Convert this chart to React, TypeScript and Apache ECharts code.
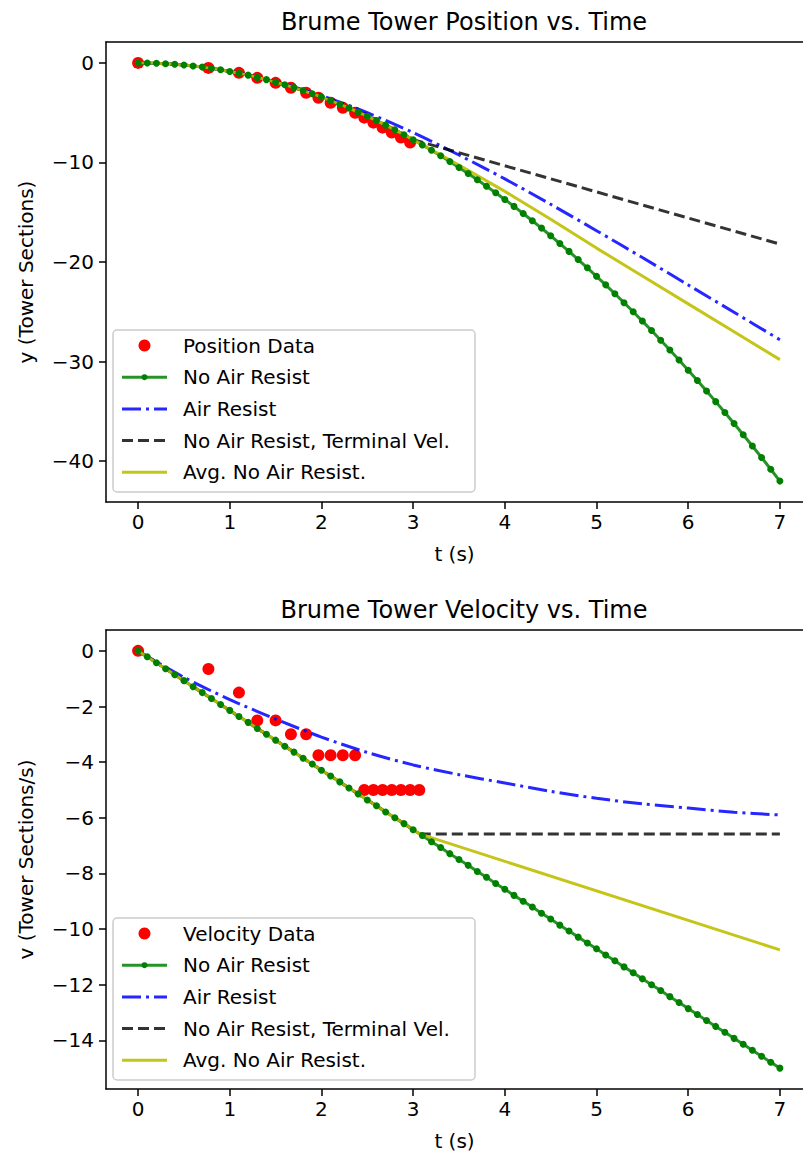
import React, { useEffect, useRef } from "react";
import * as echarts from "echarts";

const FONT = "DejaVu Sans";

// ---------- data ----------
const xTicks = [0, 1, 2, 3, 4, 5, 6, 7];
const posTicks = [0, -10, -20, -30, -40];
const velTicks = [0, -2, -4, -6, -8, -10, -12, -14];

const sampleTimes = [
  0, 0.1, 0.2, 0.3, 0.4, 0.5, 0.6, 0.7, 0.8, 0.9,
  1, 1.1, 1.2, 1.3, 1.4, 1.5, 1.6, 1.7, 1.8, 1.9,
  2, 2.1, 2.2, 2.3, 2.4, 2.5, 2.6, 2.7, 2.8, 2.9,
  3, 3.1, 3.2, 3.3, 3.4, 3.5, 3.6, 3.7, 3.8, 3.9,
  4, 4.1, 4.2, 4.3, 4.4, 4.5, 4.6, 4.7, 4.8, 4.9,
  5, 5.1, 5.2, 5.3, 5.4, 5.5, 5.6, 5.7, 5.8, 5.9,
  6, 6.1, 6.2, 6.3, 6.4, 6.5, 6.6, 6.7, 6.8, 6.9,
  7,
];
const noAirPosition = [
  0, -0.01, -0.03, -0.08, -0.14, -0.21, -0.31, -0.42, -0.55, -0.69,
  -0.86, -1.04, -1.23, -1.45, -1.68, -1.93, -2.19, -2.48, -2.78, -3.09,
  -3.43, -3.78, -4.15, -4.53, -4.94, -5.36, -5.79, -6.25, -6.72, -7.21,
  -7.71, -8.24, -8.78, -9.33, -9.91, -10.5, -11.11, -11.73, -12.38, -13.04,
  -13.71, -14.41, -15.12, -15.85, -16.59, -17.36, -18.14, -18.93, -19.75, -20.58,
  -21.43, -22.29, -23.18, -24.08, -24.99, -25.93, -26.88, -27.85, -28.83, -29.84,
  -30.86, -31.89, -32.95, -34.02, -35.11, -36.21, -37.34, -38.48, -39.63, -40.81,
  -42,
];
const noAirVelocity = [
  0, -0.21, -0.43, -0.64, -0.86, -1.07, -1.29, -1.5, -1.71, -1.93,
  -2.14, -2.36, -2.57, -2.79, -3, -3.21, -3.43, -3.64, -3.86, -4.07,
  -4.29, -4.5, -4.71, -4.93, -5.14, -5.36, -5.57, -5.79, -6, -6.21,
  -6.43, -6.64, -6.86, -7.07, -7.29, -7.5, -7.71, -7.93, -8.14, -8.36,
  -8.57, -8.79, -9, -9.21, -9.43, -9.64, -9.86, -10.07, -10.29, -10.5,
  -10.71, -10.93, -11.14, -11.36, -11.57, -11.79, -12, -12.21, -12.43, -12.64,
  -12.86, -13.07, -13.29, -13.5, -13.71, -13.93, -14.14, -14.36, -14.57, -14.79,
  -15,
];

const positionTimes = [0, 0.767, 1.1, 1.3, 1.5, 1.667, 1.833, 1.967, 2.1, 2.233, 2.367, 2.467, 2.567, 2.667, 2.767, 2.867, 2.967];
const positionData = [0, -0.5, -1, -1.5, -2, -2.5, -3, -3.5, -4, -4.5, -5, -5.5, -6, -6.5, -7, -7.5, -8];
const velocityTimes = [0, 0.767, 1.1, 1.3, 1.5, 1.667, 1.833, 1.967, 2.1, 2.233, 2.367, 2.467, 2.567, 2.667, 2.767, 2.867, 2.967, 3.067];
const velocityData = [0, -0.652, -1.5, -2.5, -2.5, -3, -3, -3.75, -3.75, -3.75, -3.75, -5, -5, -5, -5, -5, -5, -5];

const airTimes = [0, 0.5, 1, 1.5, 2, 2.5, 3, 3.5, 4, 4.5, 5, 5.5, 6, 6.5, 7];
const airPosition = [0, -0.21, -0.85, -1.88, -3.28, -5.0, -7.0, -9.25, -11.65, -14.2, -16.85, -19.55, -22.3, -25.05, -27.8];
const airVelocity = [0, -0.95, -1.75, -2.45, -3.1, -3.65, -4.1, -4.45, -4.75, -5.05, -5.3, -5.5, -5.65, -5.8, -5.9];

// after the shared free-fall start (samples up to t = 3.0)
const sharedCount = 31;
const termPosTimes = [7];
const termPosValues = [-18.2];
const termVelTimes = [3.07, 7];
const termVelValues = [-6.58, -6.58];
const avgPosTimes = [3.5, 4, 4.5, 5, 5.5, 6, 6.5, 7];
const avgPosValues = [-10.25, -12.9, -15.7, -18.6, -21.4, -24.2, -27.0, -29.8];
const avgVelTimes = [3.07, 7];
const avgVelValues = [-6.58, -10.75];

const legendLabelsTop = ["Position Data", "No Air Resist", "Air Resist", "No Air Resist, Terminal Vel.", "Avg. No Air Resist."];
const legendLabelsBottom = ["Velocity Data", "No Air Resist", "Air Resist", "No Air Resist, Terminal Vel.", "Avg. No Air Resist."];

// ---------- helpers ----------
const pairs = (xs: number[], ys: number[]) => xs.map((x, i) => [x, ys[i]]);
const sharedPlus = (ys: number[], tailX: number[], tailY: number[]) =>
  pairs(sampleTimes.slice(0, sharedCount), ys.slice(0, sharedCount)).concat(pairs(tailX, tailY));
const fmt = (v: number) => (v < 0 ? "\u2212" + Math.abs(v) : String(v));

const RED = "#ff0000";
const GREEN = "#008000";
const BLUE = "#0000ff";
const BLACK = "#000000";
const YELLOW = "#bfbf00";
const DASHDOT = [19, 5, 3, 5];
const DASHED = [11, 5];

const GRID_LEFT = 106;
const GRID_W = 697; // the plot frame runs past the right edge of the picture
const X_MIN = -0.35;
const X_MAX = 7.252;

const axisLineStyle = { color: "#000", width: 1.5 };

function xAxis(gridIndex: number) {
  return {
    type: "value",
    gridIndex,
    min: X_MIN,
    max: X_MAX,
    name: "t (s)",
    nameLocation: "middle",
    nameGap: 42,
    nameTextStyle: { fontSize: 20, color: "#000", fontFamily: FONT },
    axisLine: { show: true, onZero: false, lineStyle: axisLineStyle },
    splitLine: { show: false },
    axisTick: { show: true, length: 7, customValues: xTicks, lineStyle: axisLineStyle },
    axisLabel: { customValues: xTicks, fontSize: 20, color: "#000", fontFamily: FONT, margin: 10, formatter: fmt },
  };
}
function topFrame(gridIndex: number) {
  return {
    type: "value",
    gridIndex,
    position: "top",
    min: X_MIN,
    max: X_MAX,
    axisLine: { show: true, onZero: false, lineStyle: axisLineStyle },
    axisTick: { show: false },
    axisLabel: { show: false },
    splitLine: { show: false },
  };
}
function yAxis(gridIndex: number, min: number, max: number, ticks: number[], name: string) {
  return {
    type: "value",
    gridIndex,
    min,
    max,
    name,
    nameLocation: "middle",
    nameRotate: 90,
    nameGap: 70,
    nameTextStyle: { fontSize: 20, color: "#000", fontFamily: FONT },
    axisLine: { show: true, onZero: false, lineStyle: axisLineStyle },
    splitLine: { show: false },
    axisTick: { show: true, length: 7, customValues: ticks, lineStyle: axisLineStyle },
    axisLabel: { customValues: ticks, fontSize: 20, color: "#000", fontFamily: FONT, margin: 12, formatter: fmt },
  };
}

function seriesFor(
  idx: number,
  dataLabel: string,
  dataT: number[],
  dataY: number[],
  greenY: number[],
  airY: number[],
  term: number[][],
  avg: number[][]
) {
  return [
    {
      name: dataLabel,
      type: "scatter",
      xAxisIndex: idx * 2,
      yAxisIndex: idx,
      data: pairs(dataT, dataY),
      symbolSize: 12,
      itemStyle: { color: RED, opacity: 1 },
    },
    {
      name: "No Air Resist",
      type: "line",
      xAxisIndex: idx * 2,
      yAxisIndex: idx,
      data: pairs(sampleTimes, greenY),
      symbol: "circle",
      symbolSize: 7,
      itemStyle: { color: GREEN },
      lineStyle: { color: GREEN, width: 3, opacity: 0.85 },
    },
    {
      name: "Air Resist",
      type: "line",
      xAxisIndex: idx * 2,
      yAxisIndex: idx,
      data: pairs(airTimes, airY),
      smooth: 0.3,
      symbol: "none",
      lineStyle: { color: BLUE, width: 3, type: DASHDOT, opacity: 0.85 },
    },
    {
      name: "No Air Resist, Terminal Vel.",
      type: "line",
      xAxisIndex: idx * 2,
      yAxisIndex: idx,
      data: term,
      symbol: "none",
      lineStyle: { color: BLACK, width: 3, type: DASHED, opacity: 0.8 },
    },
    {
      name: "Avg. No Air Resist.",
      type: "line",
      xAxisIndex: idx * 2,
      yAxisIndex: idx,
      data: avg,
      symbol: "none",
      lineStyle: { color: YELLOW, width: 3, opacity: 0.9 },
    },
  ];
}

function legendGroup(top: number, labels: string[]) {
  const rowH = 31.7;
  const first = 15.5;
  const x1 = 9;
  const x2 = 54;
  const cx = 31.5;
  const children: any[] = [
    {
      type: "rect",
      shape: { x: 0, y: 0, width: 362, height: 162, r: 4 },
      style: { fill: "rgba(255,255,255,0.8)", stroke: "#cccccc", lineWidth: 1.5 },
    },
  ];
  const yRow = (i: number) => first + i * rowH;
  children.push({ type: "circle", shape: { cx, cy: yRow(0), r: 6 }, style: { fill: RED } });
  children.push({ type: "line", shape: { x1, y1: yRow(1), x2, y2: yRow(1) }, style: { stroke: GREEN, lineWidth: 3, opacity: 0.85 } });
  children.push({ type: "circle", shape: { cx, cy: yRow(1), r: 3 }, style: { fill: GREEN } });
  children.push({ type: "line", shape: { x1, y1: yRow(2), x2, y2: yRow(2) }, style: { stroke: BLUE, lineWidth: 3, lineDash: DASHDOT, opacity: 0.85 } });
  children.push({ type: "line", shape: { x1, y1: yRow(3), x2, y2: yRow(3) }, style: { stroke: BLACK, lineWidth: 3, lineDash: DASHED, opacity: 0.8 } });
  children.push({ type: "line", shape: { x1, y1: yRow(4), x2, y2: yRow(4) }, style: { stroke: YELLOW, lineWidth: 3, opacity: 0.9 } });
  labels.forEach((t, i) => {
    children.push({
      type: "text",
      x: 70,
      y: yRow(i),
      style: { text: t, fill: "#000", font: `20px "${FONT}"`, verticalAlign: "middle", align: "left" },
    });
  });
  return { type: "group", x: 113, y: top, z: 100, children };
}

const TITLE_X = 459;

const option: any = {
  animation: false,
  backgroundColor: "#ffffff",
  textStyle: { fontFamily: FONT },
  title: [
    {
      text: "Brume Tower Position vs. Time",
      left: TITLE_X,
      top: 5,
      textAlign: "center",
      textStyle: { fontSize: 24, fontWeight: "normal", color: "#000", fontFamily: FONT },
    },
    {
      text: "Brume Tower Velocity vs. Time",
      left: TITLE_X,
      top: 593,
      textAlign: "center",
      textStyle: { fontSize: 24, fontWeight: "normal", color: "#000", fontFamily: FONT },
    },
  ],
  grid: [
    { left: GRID_LEFT, top: 42, width: GRID_W, height: 460, show: false },
    { left: GRID_LEFT, top: 630, width: GRID_W, height: 459, show: false },
  ],
  xAxis: [xAxis(0), topFrame(0), xAxis(1), topFrame(1)],
  yAxis: [
    yAxis(0, -44.1, 2.1, posTicks, "y (Tower Sections)"),
    yAxis(1, -15.75, 0.75, velTicks, "v (Tower Sections/s)"),
  ],
  series: [
    ...seriesFor(
      0,
      "Position Data",
      positionTimes,
      positionData,
      noAirPosition,
      airPosition,
      sharedPlus(noAirPosition, termPosTimes, termPosValues),
      sharedPlus(noAirPosition, avgPosTimes, avgPosValues)
    ),
    ...seriesFor(
      1,
      "Velocity Data",
      velocityTimes,
      velocityData,
      noAirVelocity,
      airVelocity,
      sharedPlus(noAirVelocity, termVelTimes, termVelValues),
      sharedPlus(noAirVelocity, avgVelTimes, avgVelValues)
    ),
  ],
  graphic: [legendGroup(330, legendLabelsTop), legendGroup(918, legendLabelsBottom)],
};

export default function App() {
  const ref = useRef<HTMLDivElement>(null);
  useEffect(() => {
    document.body.style.margin = "0";
    const chart = echarts.init(ref.current as HTMLDivElement, null, { renderer: "svg" });
    chart.setOption(option);
    return () => chart.dispose();
  }, []);
  return <div ref={ref} style={{ width: 803, height: 1156 }} />;
}
